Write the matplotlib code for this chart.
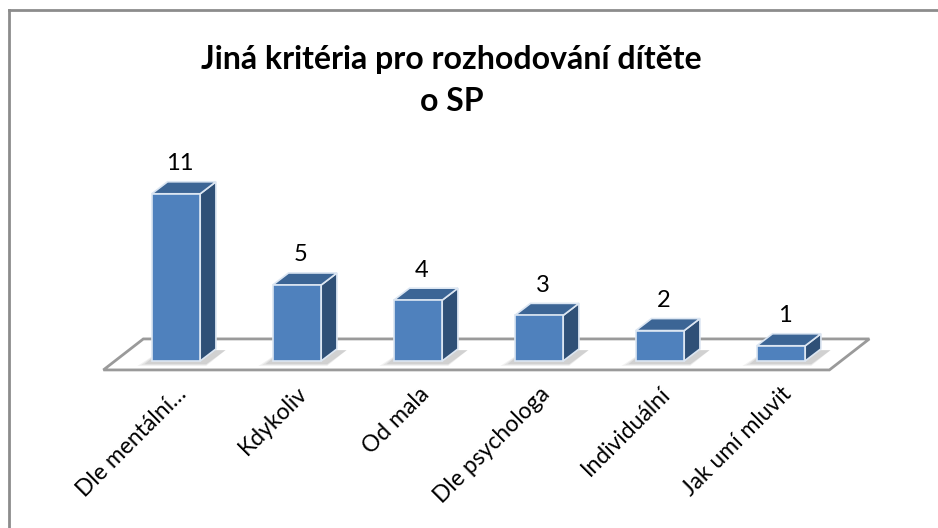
import matplotlib.pyplot as plt
from matplotlib.patches import Polygon
from matplotlib.lines import Line2D

categories = ["Dle mentální…", "Kdykoliv", "Od mala", "Dle psychologa",
              "Individuální", "Jak umí mluvit"]
values = [11, 5, 4, 3, 2, 1]

title = "Jiná kritéria pro rozhodování dítěte\no SP"

FRONT = "#4F81BD"
TOP = "#3C6595"
SIDE = "#2F5077"
EDGE = "#DCE6F2"

fig = plt.figure(figsize=(9.38, 5.28), dpi=100)
ax = fig.add_axes([0, 0, 1, 1])
ax.set_xlim(-1.4545, 6.2975)
ax.set_ylim(-10.99, 23.75)
ax.axis("off")

# fake 3d offsets (category units, value units)
bw = 0.4
ddx, ddy = 0.13, 0.79
fdx, fdy = 0.33, 2.04
n = len(values)

# floor
x0, x1, yf = -0.60, n - 0.60, -0.59
ax.add_patch(Polygon([(x0, yf), (x1, yf), (x1 + fdx, yf + fdy), (x0 + fdx, yf + fdy)],
                     closed=True, facecolor="white", edgecolor="#9a9a9a", lw=2, zorder=1))

for i, v in enumerate(values):
    l, r = i - bw / 2, i + bw / 2
    # soft shadow
    for k, a in enumerate([0.05, 0.06, 0.08]):
        s = 0.06 - k * 0.02
        ax.add_patch(Polygon([(l - 0.12 + k * 0.03, -0.15 - s * 3), (r + 0.05, -0.15 - s * 3),
                              (r + ddx + 0.08, ddy * 0.9), (l + ddx - 0.05, ddy * 0.9)],
                             closed=True, facecolor="black", alpha=a, lw=0, zorder=2))
    front = [(l, 0), (r, 0), (r, v), (l, v)]
    side = [(r, 0), (r + ddx, ddy), (r + ddx, v + ddy), (r, v)]
    top = [(l, v), (r, v), (r + ddx, v + ddy), (l + ddx, v + ddy)]
    ax.add_patch(Polygon(side, closed=True, facecolor=SIDE, edgecolor=EDGE, lw=1.2, zorder=3))
    ax.add_patch(Polygon(top, closed=True, facecolor=TOP, edgecolor=EDGE, lw=1.2, zorder=3))
    ax.add_patch(Polygon(front, closed=True, facecolor=FRONT, edgecolor=EDGE, lw=1.2, zorder=4))
    ax.text(i + 0.03, v + ddy + 0.5, str(v), ha="center", va="bottom",
            fontsize=17, family="Lato", color="black", zorder=5)
    ax.text(i + 0.0, -1.45, categories[i], ha="right", va="top", rotation=45,
            rotation_mode="anchor", fontsize=16.5, family="Lato", color="black")

fig.text(0.4813, 0.848, title, ha="center", va="center", fontsize=23,
         fontweight="bold", family="Lato", linespacing=1.55)

# chart frame (only top and left edges visible)
fig.add_artist(Line2D([0.0096, 0.0096], [0, 0.982], transform=fig.transFigure,
                      color="#8c8c8c", lw=2))
fig.add_artist(Line2D([0.0096, 1.0], [0.982, 0.982], transform=fig.transFigure,
                      color="#8c8c8c", lw=2))

fig.savefig("out.png", dpi=100)
